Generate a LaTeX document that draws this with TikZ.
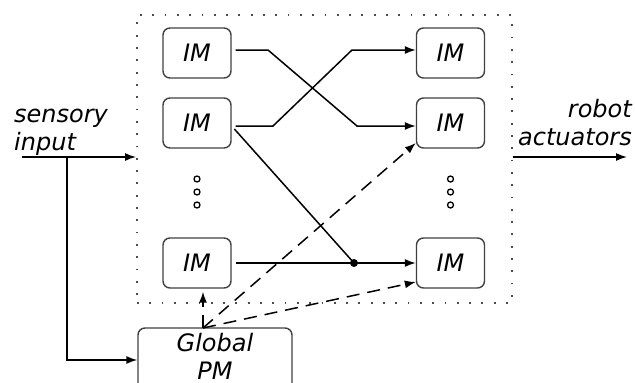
\documentclass[tikz,border=0pt]{standalone}
\usepackage{fontspec}
\setmainfont{DejaVu Sans}
\usetikzlibrary{arrows.meta}
\begin{document}
\begin{tikzpicture}[x=1pt,y=-1pt]
\tikzstyle{imbox} = [draw=black!75, line width=1.4pt, rounded corners=7pt, minimum width=68pt, minimum height=50pt, font=\fontsize{24}{28}\selectfont\itshape]
\tikzstyle{lbl} = [inner sep=0, font=\fontsize{24}{28}\selectfont\itshape]
\tikzstyle{arr} = [-{Latex[length=11pt,width=8pt]}, line width=1.5pt]
\tikzstyle{dasharr} = [arr, dash pattern=on 13pt off 8pt]
\useasboundingbox (0,0) rectangle (635,383);
\node [draw=black!70, line width=1.8pt, dash pattern=on 1.8pt off 10.5pt, minimum width=375pt, minimum height=288pt] (frame) at (324.5,159) {};
\node [imbox] (im1) at (197,53) {IM};
\node [imbox] (im2) at (197,123) {IM};
\node [imbox] (im3) at (197,263) {IM};
\node [imbox] (om1) at (450.5,53) {IM};
\node [imbox] (om2) at (450.5,123) {IM};
\node [imbox] (om3) at (450.5,263) {IM};
\node [imbox, minimum width=154pt, minimum height=64pt, align=center, text depth=8pt] (gpm) at (215,360) {Global\\PM};
\node [lbl, anchor=base west, align=left] (sens) at (14,150) {sensory\\input};
\node [lbl, anchor=base east, align=right] (rob) at (632,145) {robot\\actuators};
\node [circle, fill, inner sep=0, minimum size=8pt] (j) at (354,263) {};
\coordinate (gtop) at (203,328);
\coordinate (sin) at (22,157);
\coordinate (rout) at (627,157);
% dots between the rows
\foreach \y in {179,192,205} {
  \draw [line width=1.3pt] (197,\y) circle (3pt);
  \draw [line width=1.3pt] (450.5,\y) circle (3pt);
}
% crossing links
\draw [arr, shorten <=4pt] ([yshift=3pt]im1.east) -- (268,50) -- (357,126) -- ([yshift=-3pt]om2.west);
\draw [arr, shorten <=4pt] ([yshift=-3pt]im2.east) -- (273,126) -- (352,50) -- ([yshift=3pt]om1.west);
\draw [line width=1.5pt, shorten <=4pt] ([yshift=-3pt]im2.east) -- (j.center);
\draw [arr, shorten <=4pt] (im3.east) -- (j.center) -- (om3.west);
% global PM
\draw [dasharr] (gtop) -- ([yshift=-20pt]om2.west);
\draw [dasharr] (gtop) -- ([yshift=-19pt]om3.west);
\draw [dasharr, shorten >=3pt] (gtop) -- (gtop |- im3.south);
% in and out
\draw [arr] (sin) -- (sin -| frame.west);
\draw [arr] (67,157) |- (gpm.west);
\draw [arr] (rout -| frame.east) -- (rout);
\end{tikzpicture}
\end{document}
